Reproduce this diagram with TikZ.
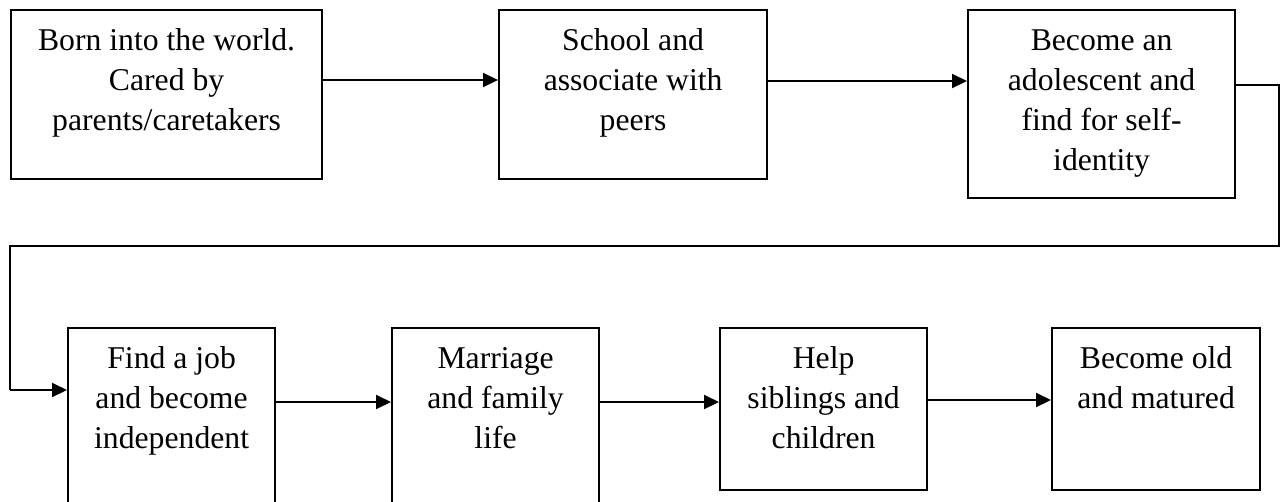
\documentclass[tikz,border=0pt]{standalone}
\usepackage{fontspec}
\setmainfont{Liberation Serif}
\usetikzlibrary{arrows.meta}

% Stage box: fixed width and height, text set from the top, centred
\newcommand{\stagebody}[3]{%
  \parbox[c][#2][t]{#1}{\centering\fontsize{31.7}{40}\selectfont
    \rule{0pt}{40pt}#3}}

\tikzset{
  stagebox/.style={draw, line width=2.2pt, inner sep=0pt, anchor=north west},
  arr/.style={line width=2pt, -{Triangle[length=15pt,width=14pt]}},
  link/.style={line width=1.4pt},
}

\begin{document}
\begin{tikzpicture}[x=1pt, y=-1pt]
  \useasboundingbox (0,0) rectangle (1282,501);
  \clip (0,0) rectangle (1282,501);

  % first row
  \node[stagebox] (s1) at (10,9)
    {\stagebody{311pt}{169pt}{Born into the world.\\Cared by\\parents/caretakers}};
  \node[stagebox] (s2) at (498,9)
    {\stagebody{268pt}{169pt}{School and\\associate with\\peers}};
  \node[stagebox] (s3) at (967,9)
    {\stagebody{267pt}{188pt}{Become an\\adolescent and\\find for self-\\identity}};

  % second row
  \node[stagebox] (s4) at (67,327)
    {\stagebody{207pt}{188pt}{Find a job\\and become\\independent}};
  \node[stagebox] (s5) at (391,327)
    {\stagebody{207pt}{188pt}{Marriage\\and family\\life}};
  \node[stagebox] (s6) at (719,327)
    {\stagebody{207pt}{162pt}{Help\\siblings and\\children}};
  \node[stagebox] (s7) at (1051,327)
    {\stagebody{208pt}{162pt}{Become old\\and matured}};

  % arrows along the first row
  \draw[arr] (s1.east |- 0,80) -- (s2.west |- 0,80);
  \draw[arr] (s2.east |- 0,81) -- (s3.west |- 0,81);

  % return line from the end of the first row to the start of the second
  \coordinate (r1) at (1279,85);
  \coordinate (r2) at (1279,246);
  \coordinate (r3) at (10,246);
  \coordinate (r4) at (10,390);
  \draw[link] (s3.east |- r1) -- (r1) -- (r2) -- (r3) -- (r4);
  \draw[arr] (r4) -- (s4.west |- r4);

  % arrows along the second row
  \draw[arr] (s4.east |- 0,402) -- (s5.west |- 0,402);
  \draw[arr] (s5.east |- 0,402) -- (s6.west |- 0,402);
  \draw[arr] (s6.east |- 0,400) -- (s7.west |- 0,400);
\end{tikzpicture}
\end{document}
